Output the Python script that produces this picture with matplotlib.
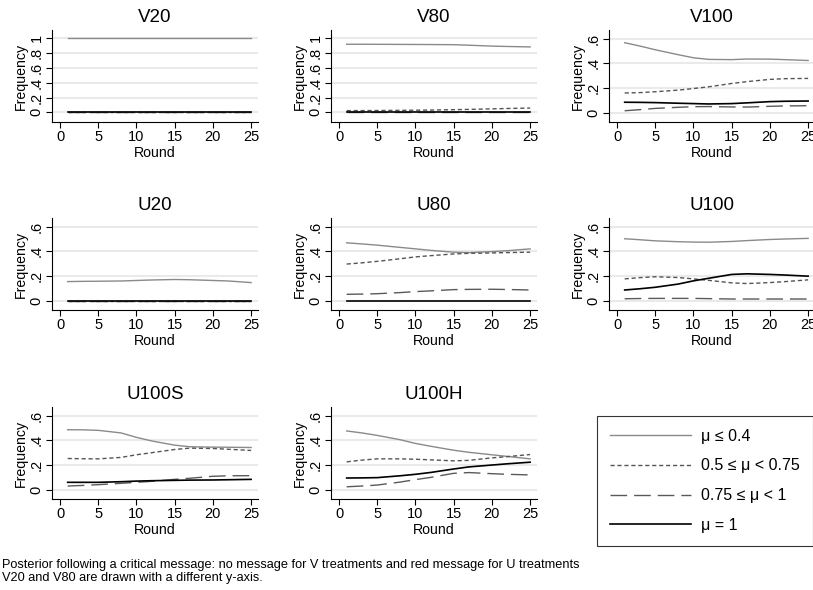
import numpy as np
import matplotlib
matplotlib.use("Agg")
import matplotlib.pyplot as plt
from matplotlib.lines import Line2D

plt.rcParams['font.family'] = ['Liberation Sans', 'DejaVu Sans']

# --- data ---
rounds = [1, 3, 5, 8, 10, 12, 15, 17, 20, 22, 25]
panels = ["V20", "V80", "V100", "U20", "U80", "U100", "U100S", "U100H"]
series_labels = ["\u03bc \u2264 0.4", "0.5 \u2264 \u03bc < 0.75",
                 "0.75 \u2264 \u03bc < 1", "\u03bc = 1"]

low = {  # mu <= 0.4
    "V20":   [1.0] * 11,
    "V80":   [0.918, 0.918, 0.917, 0.916, 0.915, 0.914, 0.912, 0.905, 0.893, 0.888, 0.882],
    "V100":  [0.567, 0.54, 0.51, 0.47, 0.445, 0.432, 0.43, 0.435, 0.434, 0.43, 0.423],
    "U20":   [0.155, 0.157, 0.158, 0.16, 0.164, 0.168, 0.172, 0.17, 0.164, 0.16, 0.147],
    "U80":   [0.469, 0.46, 0.45, 0.432, 0.42, 0.408, 0.393, 0.39, 0.398, 0.405, 0.42],
    "U100":  [0.502, 0.494, 0.485, 0.478, 0.475, 0.474, 0.48, 0.487, 0.496, 0.5, 0.505],
    "U100S": [0.486, 0.485, 0.481, 0.46, 0.424, 0.395, 0.361, 0.348, 0.345, 0.344, 0.342],
    "U100H": [0.476, 0.46, 0.44, 0.405, 0.375, 0.352, 0.32, 0.303, 0.283, 0.27, 0.25],
}
mid = {  # 0.5 <= mu < 0.75
    "V20":   [0.0] * 11,
    "V80":   [0.023, 0.024, 0.025, 0.027, 0.029, 0.031, 0.036, 0.040, 0.047, 0.052, 0.058],
    "V100":  [0.16, 0.163, 0.17, 0.183, 0.196, 0.21, 0.237, 0.252, 0.27, 0.276, 0.278],
    "U20":   [0.0] * 11,
    "U80":   [0.297, 0.307, 0.319, 0.34, 0.355, 0.365, 0.379, 0.384, 0.387, 0.39, 0.393],
    "U100":  [0.177, 0.187, 0.194, 0.188, 0.177, 0.165, 0.145, 0.139, 0.147, 0.155, 0.169],
    "U100S": [0.253, 0.251, 0.25, 0.262, 0.283, 0.3, 0.326, 0.337, 0.334, 0.328, 0.318],
    "U100H": [0.226, 0.24, 0.25, 0.25, 0.247, 0.242, 0.234, 0.238, 0.258, 0.268, 0.285],
}
high = {  # 0.75 <= mu < 1
    "V20":   [0.0] * 11,
    "V80":   [0.004] * 11,
    "V100":  [0.016, 0.025, 0.035, 0.044, 0.049, 0.05, 0.047, 0.046, 0.052, 0.055, 0.057],
    "U20":   [0.0] * 11,
    "U80":   [0.052, 0.054, 0.057, 0.066, 0.074, 0.08, 0.09, 0.092, 0.093, 0.091, 0.087],
    "U100":  [0.016, 0.018, 0.019, 0.019, 0.019, 0.017, 0.014, 0.014, 0.014, 0.014, 0.014],
    "U100S": [0.03, 0.035, 0.041, 0.052, 0.06, 0.068, 0.084, 0.093, 0.109, 0.113, 0.114],
    "U100H": [0.024, 0.03, 0.038, 0.062, 0.082, 0.1, 0.133, 0.139, 0.13, 0.125, 0.12],
}
one = {  # mu = 1
    "V20":   [0.0] * 11,
    "V80":   [0.0] * 11,
    "V100":  [0.085, 0.084, 0.082, 0.077, 0.074, 0.071, 0.074, 0.08, 0.09, 0.093, 0.095],
    "U20":   [0.0] * 11,
    "U80":   [0.0] * 11,
    "U100":  [0.087, 0.097, 0.109, 0.135, 0.161, 0.182, 0.213, 0.218, 0.213, 0.208, 0.199],
    "U100S": [0.06, 0.06, 0.06, 0.065, 0.07, 0.073, 0.076, 0.078, 0.079, 0.081, 0.084],
    "U100H": [0.095, 0.096, 0.098, 0.113, 0.125, 0.14, 0.168, 0.185, 0.2, 0.21, 0.223],
}

styles = [
    dict(color="#8a8a8a", lw=1.0, ls="-"),
    dict(color="#555555", lw=1.0, ls=(0, (3, 2))),
    dict(color="#5a5a5a", lw=1.0, ls=(0, (12, 5))),
    dict(color="black", lw=1.2, ls="-"),
]

W, H = 813, 590
fig = plt.figure(figsize=(W / 100, H / 100), dpi=100)

col_left = [52, 331, 609]
row_top = [30, 218, 407]
ax_w, ax_h = 206, 92

for k, name in enumerate(panels):
    r, c = divmod(k, 3)
    ax = fig.add_axes([col_left[c] / W, 1 - (row_top[r] + ax_h) / H, ax_w / W, ax_h / H])
    big = name in ("V20", "V80")
    if big:
        yt = [0, 0.2, 0.4, 0.6, 0.8, 1.0]
        ytl = ["0", ".2", ".4", ".6", ".8", "1"]
        ax.set_ylim(-0.13, 1.11)
    else:
        yt = [0, 0.2, 0.4, 0.6]
        ytl = ["0", ".2", ".4", ".6"]
        ax.set_ylim(-0.075, 0.67)
    for y in yt:
        ax.axhline(y, color="#eaeaea", lw=1.5, zorder=0)
    for vals, st in zip([low, mid, high, one], styles):
        ax.plot(rounds, vals[name], **st)
    ax.set_xlim(-1.05, 25.9)
    ax.set_xticks([0, 5, 10, 15, 20, 25])
    ax.set_yticks(yt)
    ax.set_yticklabels(ytl, rotation=90, va="center")
    ax.tick_params(labelsize=10.5, length=4, width=0.8, pad=2)
    for s in ("top", "right"):
        ax.spines[s].set_visible(False)
    for s in ("left", "bottom"):
        ax.spines[s].set_linewidth(0.8)
    ax.set_xlabel("Round", fontsize=10.2, labelpad=1.5)
    ax.set_ylabel("Frequency", fontsize=10.2, labelpad=1.5)
    ax.set_title(name, fontsize=13.5, pad=6)

handles = [Line2D([], [], **st) for st in styles]
leg = fig.legend(handles, series_labels, loc="upper left",
                 bbox_to_anchor=(597 / W, 1 - 547 / H, 216 / W, 131 / H),
                 mode="expand", borderaxespad=0,
                 fontsize=11.5, frameon=True, fancybox=False, edgecolor="black",
                 handlelength=5.1, handletextpad=0.6, labelspacing=0.92,
                 borderpad=0.8)
leg.get_frame().set_linewidth(0.8)

fig.text(2 / W, 1 - 565 / H,
         "Posterior following a critical message: no message for V treatments and red message for U treatments",
         fontsize=9.2, va="center", ha="left")
fig.text(2 / W, 1 - 578 / H, "V20 and V80 are drawn with a different y-axis.",
         fontsize=9.2, va="center", ha="left")

fig.savefig("out.png", dpi=100)
